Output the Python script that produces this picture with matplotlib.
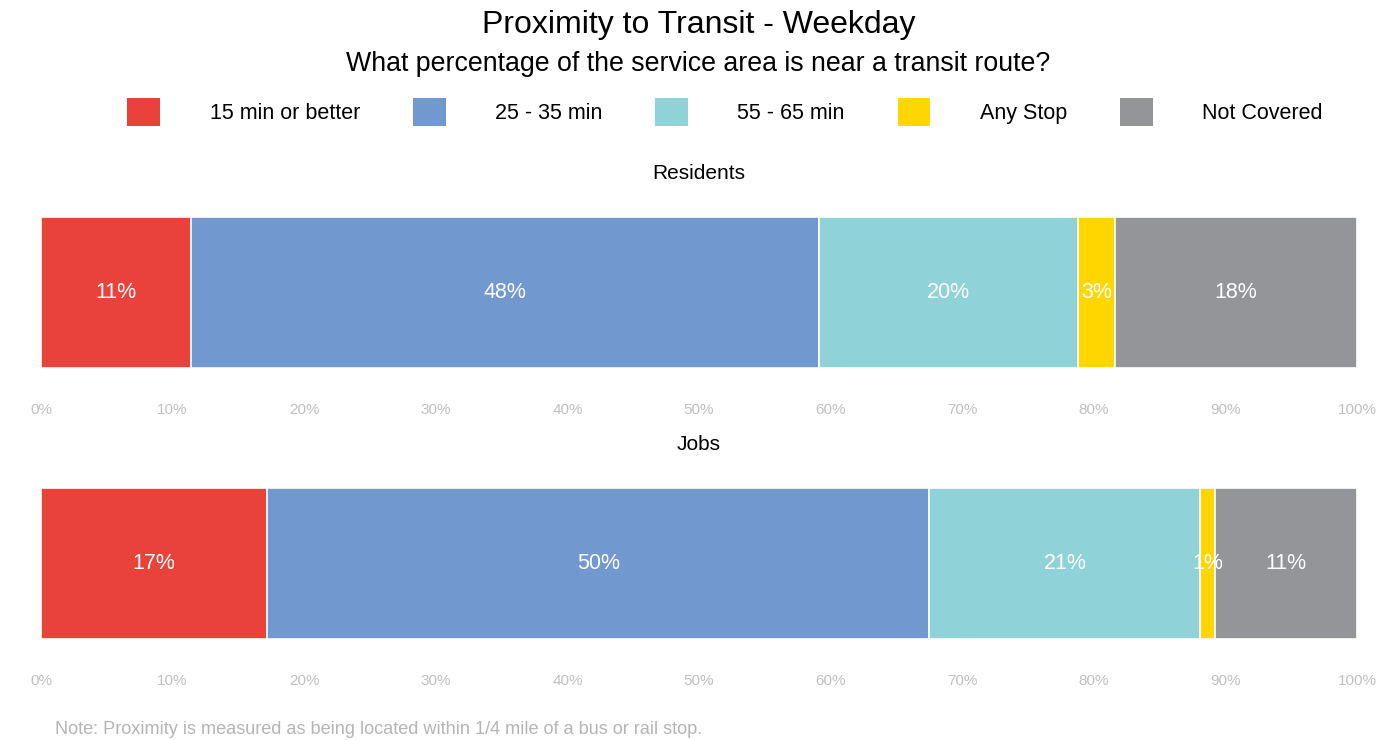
import numpy as np
import matplotlib
matplotlib.use('Agg')
import matplotlib.pyplot as plt
from matplotlib.patches import Patch
from matplotlib.ticker import PercentFormatter

# --- share of each group by transit frequency (percent) ---
categories = ["15 min or better", "25 - 35 min", "55 - 65 min", "Any Stop", "Not Covered"]
residents = [11.4, 47.7, 19.7, 2.8, 18.4]
jobs = [17.2, 50.3, 20.6, 1.1, 10.8]
panel_titles = ["Residents", "Jobs"]
tick_values = [0, 10, 20, 30, 40, 50, 60, 70, 80, 90, 100]

colors = ["#E8423B", "#7198CF", "#8FD3D9", "#FFD600", "#939598"]

plt.rcParams['font.family'] = ["Liberation Sans", "DejaVu Sans"]

fig = plt.figure(figsize=(13.98, 7.40), dpi=100)

def draw_bar(ax, values, title):
    left = 0
    for v, c in zip(values, colors):
        ax.barh(0, v, left=left, height=1.0, color=c, edgecolor="white", linewidth=1.2)
        ax.text(left + v / 2, 0, f"{v:.0f}%", ha="center", va="center",
                color="white", fontsize=15.5)
        left += v
    ax.set_xlim(0, 100)
    ax.set_ylim(-0.5, 0.5)
    ax.set_yticks([])
    ax.set_xticks(tick_values)
    ax.xaxis.set_major_formatter(PercentFormatter(decimals=0))
    ax.tick_params(axis="x", length=0, pad=25, labelsize=11, labelcolor="#c0c0c0")
    for s in ax.spines.values():
        s.set_visible(False)
    ax.set_title(title, fontsize=15, pad=27)

ax1 = fig.add_axes([0.0293, 0.5027, 0.9414, 0.2041])
ax2 = fig.add_axes([0.0293, 0.1365, 0.9414, 0.2041])
draw_bar(ax1, residents, panel_titles[0])
draw_bar(ax2, jobs, panel_titles[1])

fig.text(0.4996, 0.966, "Proximity to Transit - Weekday", ha="center", va="center",
         fontsize=23)
fig.text(0.4996, 0.913, "What percentage of the service area is near a transit route?",
         ha="center", va="center", fontsize=19.3)

handles = [Patch(facecolor=c, edgecolor="none", label=lab) for c, lab in zip(colors, categories)]
leg = fig.legend(handles=handles, loc="center", bbox_to_anchor=(0.5186, 1 - 112 / 740),
                 ncol=5, frameon=False, prop={"size": 15.5},
                 handlelength=1.52, handleheight=1.63, handletextpad=2.3, columnspacing=2.45)

fig.text(0.039, 1 - 729 / 740, "Note: Proximity is measured as being located within 1/4 mile of a bus or rail stop.",
         ha="left", va="center", fontsize=13.1, color="#b5b5b5")

fig.savefig("out.png", dpi=100)
